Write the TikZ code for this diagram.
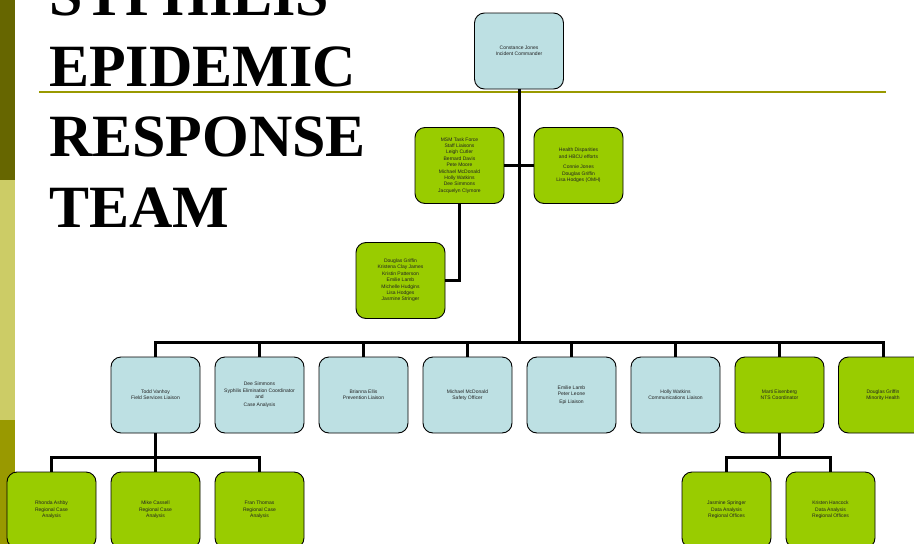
\documentclass[tikz,border=0pt]{standalone}
\usepackage{fontspec}
\setmainfont{Liberation Sans}
\newfontfamily\titlefont{Liberation Serif}
\definecolor{boxblue}{HTML}{BDE0E3}
\definecolor{boxgreen}{HTML}{99CC00}
\definecolor{olivedark}{HTML}{666600}
\definecolor{olivelight}{HTML}{CCCC66}
\definecolor{olivemid}{HTML}{999900}
\definecolor{txt}{HTML}{222222}
\begin{document}
\begin{tikzpicture}[x=1pt,y=-1pt,
  orgbox/.style={draw=black, line width=0.9pt, rounded corners=10pt,
    minimum width=89pt, minimum height=76pt, inner sep=1pt, align=center,
    text=txt, font=\fontsize{5}{6.4}\selectfont},
  bluebox/.style={orgbox, fill=boxblue},
  greenbox/.style={orgbox, fill=boxgreen},
  conn/.style={draw=black, line width=3pt},
  titletext/.style={anchor=base west, inner sep=0pt, font=\titlefont\bfseries\fontsize{60}{60}\selectfont}]
\useasboundingbox (0,0) rectangle (914,544);
\fill[white] (0,0) rectangle (914,544);
% left bars
\fill[olivedark] (0,0) rectangle (15,180);
\fill[olivelight] (0,180) rectangle (15,420);
\fill[olivemid] (0,420) rectangle (15,544);
% title
\node[titletext] (t1) at (49,15) {SYPHILIS};
\node[titletext] (t2) at (49,86) {EPIDEMIC};
\node[titletext] (t3) at (49,156.5) {RESPONSE};
\node[titletext] (t4) at (49,227) {TEAM};
\coordinate (ruleL) at (39,92);
\coordinate (ruleR) at (886,92);
\draw[olivemid, line width=2.6pt] (ruleL) -- (ruleR);
% nodes
\node[bluebox] (top) at (519,51) {Constance Jones\\Incident Commander};
\node[greenbox] (msm) at (459.5,165.5) {MSM Task Force\\Staff Liaisons\\Leigh Cutler\\Bernard Davis\\Pete Moore\\Michael McDonald\\Holly Watkins\\Dee Simmons\\Jacquelyn Clymore};
\node[greenbox] (hd) at (578.5,165.5) {Health Disparities\\and HBCU efforts\\[4pt]Connie Jones\\Douglas Griffin\\Lisa Hodges (OMH)};
\node[greenbox] (dgr) at (400.5,280.5) {Douglas Griffin\\Kristena Clay James\\Kristin Patterson\\Emilie Lamb\\Michelle Hudgins\\Lisa Hodges\\Jasmine Stringer};
\node[bluebox] (todd) at (155.5,395) {Todd Vanhoy\\Field Services Liaison};
\node[bluebox] (dee) at (259.5,395) {Dee Simmons\\Syphilis Elimination Coordinator\\and\\[1.5pt]Case Analysis};
\node[bluebox] (bri) at (363.5,395) {Brianna Ellis\\Prevention Liaison};
\node[bluebox] (mic) at (467.5,395) {Michael McDonald\\Safety Officer};
\node[bluebox] (emi) at (571.5,395) {Emilie Lamb\\Peter Leone\\[1pt]Epi Liaison};
\node[bluebox] (hol) at (675.5,395) {Holly Watkins\\Communications Liaison};
\node[greenbox] (mar) at (779.5,395) {Marti Eisenberg\\NTS Coordinator};
\node[greenbox] (dmh) at (883,395) {Douglas Griffin\\Minority Health};
\node[greenbox] (rho) at (51.5,510) {Rhonda Ashby\\Regional Case\\Analysis};
\node[greenbox] (mik) at (155.5,510) {Mike Cassell\\Regional Case\\Analysis};
\node[greenbox] (fra) at (259.5,510) {Fran Thomas\\Regional Case\\Analysis};
\node[greenbox] (jas) at (726.5,510) {Jasmine Springer\\Data Analysis\\Regional Offices};
\node[greenbox] (kri) at (830.5,510) {Kristen Hancock\\Data Analysis\\Regional Offices};
% connectors
\coordinate (bus) at (519,342);
\coordinate (sub1) at (155.5,457);
\coordinate (sub2) at (779,457);
\draw[conn] (top.south) -- (top.south |- bus);
\draw[conn, line join=miter] (todd.north) |- (bus) -| (dmh.north);
\foreach \n in {dee,bri,mic,emi,hol,mar} {\draw[conn] (\n.north |- bus) -- (\n.north);}
\draw[conn] (msm.east) -- (hd.west);
\draw[conn, line join=miter] (msm.south) |- (dgr.east);
\draw[conn] (todd.south) -- (mik.north);
\draw[conn, line join=miter] (rho.north) |- (sub1) -| (fra.north);
\draw[conn] (mar.south) -- (mar.south |- sub2);
\draw[conn, line join=miter] (jas.north) |- (sub2) -| (kri.north);
\end{tikzpicture}
\end{document}
